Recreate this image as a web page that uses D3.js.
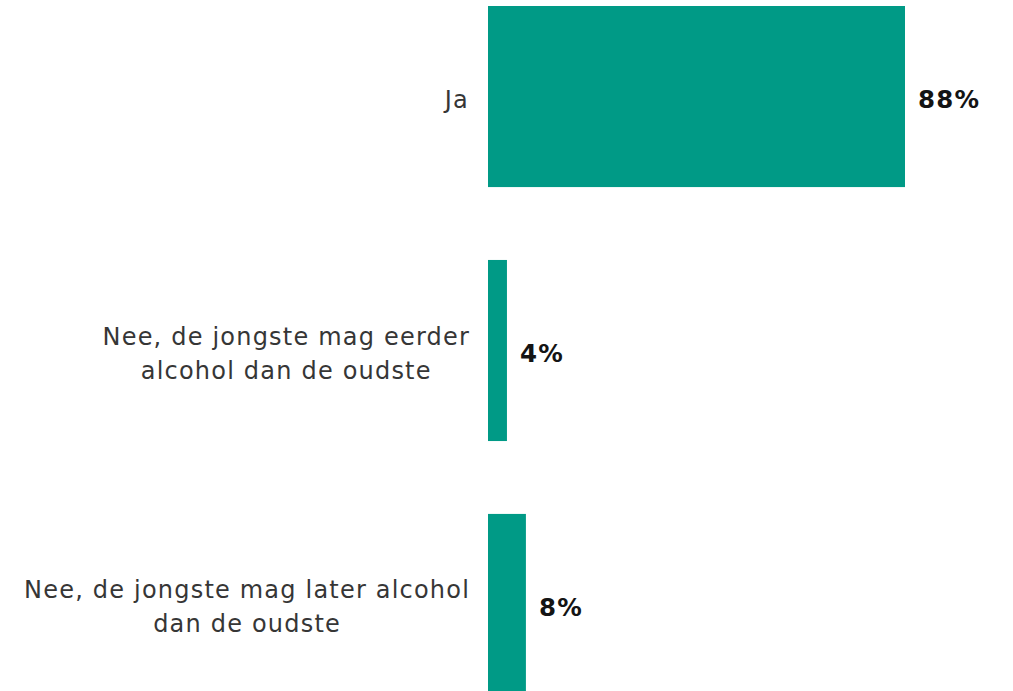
<!DOCTYPE html>
<html><head><meta charset="utf-8">
<script src="https://cdn.jsdelivr.net/npm/d3@7"></script>
<style>html,body{margin:0;padding:0;background:#fff;overflow:hidden}</style>
</head><body>
<svg id="c" width="1013" height="691"></svg>
<script>
const categories = [
  ["Ja"],
  ["Nee, de jongste mag eerder", "alcohol dan de oudste"],
  ["Nee, de jongste mag later alcohol", "dan de oudste"]
];
const values = [88, 4, 8];
const valueLabels = ["88%", "4%", "8%"];

const svg = d3.select("#c");
const x = d3.scaleLinear().domain([0, 88]).range([488, 905]);
const y = d3.scaleBand().domain(d3.range(categories.length)).range([6, 695]).paddingInner(0.287).paddingOuter(0);
const color = "#009a86";
const font = "'DejaVu Sans', sans-serif";

svg.selectAll("rect.bar").data(values).join("rect")
  .attr("class", "bar")
  .attr("x", x(0))
  .attr("y", (d, i) => y(i))
  .attr("width", d => x(d) - x(0))
  .attr("height", y.bandwidth())
  .attr("fill", color);

svg.selectAll("text.val").data(values).join("text")
  .attr("class", "val")
  .attr("x", d => x(d) + 13)
  .attr("y", (d, i) => y(i) + y.bandwidth() / 2 + 11.5)
  .attr("font-family", font)
  .attr("font-weight", 700)
  .attr("font-size", 24.5)
  .attr("letter-spacing", 1.2)
  .attr("fill", "#141414")
  .text((d, i) => valueLabels[i]);

const lineH = 34;
const labels = svg.selectAll("text.cat").data(categories).join("text")
  .attr("class", "cat")
  .attr("font-family", font)
  .attr("font-size", 24)
  .attr("letter-spacing", 1.2)
  .attr("fill", "#363636")
  .attr("text-anchor", "middle");

labels.each(function(lines, i) {
  const t = d3.select(this);
  const cy = y(i) + y.bandwidth() / 2;
  const y0 = cy - (lines.length - 1) * lineH / 2 + 11;
  lines.forEach((l, k) => {
    t.append("tspan").attr("x", 0).attr("y", y0 + k * lineH).text(l);
  });
  const w = this.getBBox().width;
  t.attr("transform", `translate(${470 - w / 2},0)`);
});
</script>
</body></html>
